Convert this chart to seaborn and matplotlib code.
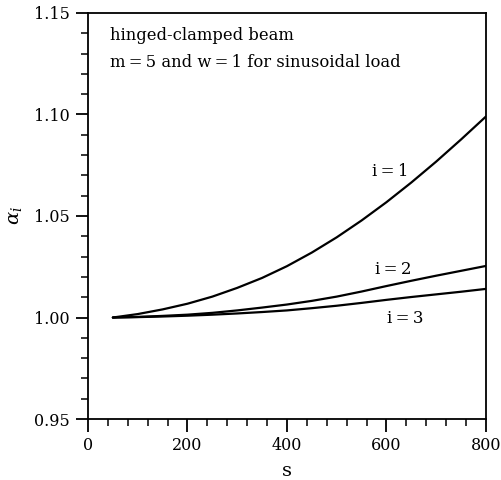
import numpy as np
import pandas as pd
import matplotlib
matplotlib.use("Agg")
import matplotlib.pyplot as plt
import seaborn as sns
from matplotlib.ticker import MultipleLocator

s_vals = [50, 100, 150, 200, 250, 300, 350, 400, 450, 500, 550, 600, 650, 700, 750, 800]
a_i1 = [1.000, 1.0017, 1.0040, 1.0068, 1.0103, 1.0146, 1.0195, 1.0253, 1.0320, 1.0395, 1.0478, 1.0568, 1.0665, 1.0768, 1.0877, 1.0990]
a_i2 = [1.000, 1.0003, 1.0008, 1.0014, 1.0023, 1.0035, 1.0049, 1.0064, 1.0082, 1.0103, 1.0128, 1.0155, 1.0181, 1.0206, 1.0230, 1.0254]
a_i3 = [1.000, 1.0002, 1.0005, 1.0009, 1.0014, 1.0020, 1.0027, 1.0035, 1.0046, 1.0058, 1.0072, 1.0087, 1.0101, 1.0114, 1.0127, 1.0141]
series_names = ["i=1", "i=2", "i=3"]

df = pd.DataFrame({
    "s": s_vals * 3,
    "a": a_i1 + a_i2 + a_i3,
    "i": [series_names[0]] * len(s_vals) + [series_names[1]] * len(s_vals) + [series_names[2]] * len(s_vals),
})

sns.set_style("ticks")
plt.rcParams["font.family"] = ["DejaVu Serif"]
plt.rcParams["mathtext.fontset"] = "dejavuserif"
plt.rcParams["text.color"] = "black"
plt.rcParams["axes.labelcolor"] = "black"

fig = plt.figure(figsize=(5.02, 4.80), dpi=100)
ax = fig.add_axes([0.1753, 0.127, 0.968 - 0.1753, 0.973 - 0.127])

sns.lineplot(data=df, x="s", y="a", hue="i", palette=["black"] * 3,
             linewidth=1.6, legend=False, ax=ax)

ax.set_xlim(0, 800)
ax.set_ylim(0.95, 1.15)
ax.xaxis.set_major_locator(MultipleLocator(200))
ax.xaxis.set_minor_locator(MultipleLocator(40))
ax.yaxis.set_major_locator(MultipleLocator(0.05))
ax.yaxis.set_minor_locator(MultipleLocator(0.01))
ax.yaxis.set_major_formatter(matplotlib.ticker.FormatStrFormatter("%.2f"))
ax.tick_params(which="major", length=9, width=1.3, labelsize=11.5, direction="out", pad=4,
               colors="black", labelcolor="black")
ax.tick_params(which="minor", length=5, width=1.1, direction="out", colors="black")
for sp in ax.spines.values():
    sp.set_linewidth(1.3)
    sp.set_color("black")

ax.set_xlabel("s", fontsize=14, labelpad=6, color="black")
ax.set_ylabel(r"$\alpha_i$", fontsize=14, labelpad=7, color="black")

ts = "\u2009"
ax.text(44, 1.1388, "hinged-clamped beam", fontsize=11.8, va="center", ha="left", color="black")
ax.text(44, 1.1255, f"m{ts}={ts}5 and w{ts}={ts}1 for sinusoidal load", fontsize=11.8, va="center", ha="left", color="black")
ax.text(571, 1.0718, f"i{ts}={ts}1", fontsize=12, va="center", ha="left", color="black")
ax.text(577, 1.0238, f"i{ts}={ts}2", fontsize=12, va="center", ha="left", color="black")
ax.text(601, 0.9995, f"i{ts}={ts}3", fontsize=12, va="center", ha="left", color="black")

fig.savefig("out.png", dpi=100)
